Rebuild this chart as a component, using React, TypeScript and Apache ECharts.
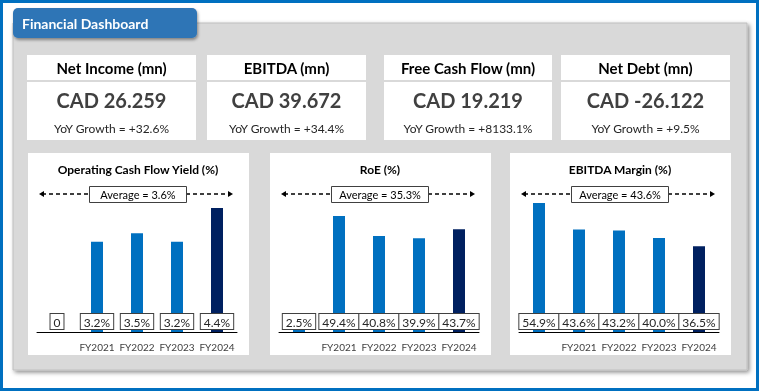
import React, { useEffect, useRef } from "react";
import * as echarts from "echarts";

const dashboardTitle = "Financial Dashboard";
const kpiTitles = ["Net Income (mn)", "EBITDA (mn)", "Free Cash Flow (mn)", "Net Debt (mn)"];
const kpiValues = [26.259, 39.672, 19.219, -26.122];
const kpiGrowth = [32.6, 34.4, 8133.1, 9.5];

const categories = ["", "FY2021", "FY2022", "FY2023", "FY2024"];
const chartTitles = ["Operating Cash Flow Yield (%)", "RoE (%)", "EBITDA Margin (%)"];
const ocfYield = [0, 3.2, 3.5, 3.2, 4.4];
const roe = [2.5, 49.4, 40.8, 39.9, 43.7];
const ebitdaMargin = [54.9, 43.6, 43.2, 40.0, 36.5];
const averages = [3.6, 35.3, 43.6];
const yMax = [5, 60, 60];

const FONT = "Lato, 'Open Sans', sans-serif";
const BLUE = "#0070C0";
const NAVY = "#002060";

export default function App() {
  const ref = useRef<HTMLDivElement>(null);
  useEffect(() => {
    if (!ref.current) return;
    const chart = echarts.init(ref.current, undefined, { renderer: "svg" });
    const seriesData = [ocfYield, roe, ebitdaMargin];

    const cardX = [27, 207, 384, 561];
    const cardW = [169, 159, 168, 169];
    const panelL = [28, 270, 510];

    const graphics: any[] = [
      {
        type: "rect",
        z: -10,
        shape: { x: 1.5, y: 1.5, width: 756, height: 388 },
        style: { fill: "#fff", stroke: BLUE, lineWidth: 3 },
      },
      {
        type: "rect",
        z: -9,
        shape: { x: 13, y: 23, width: 734, height: 347 },
        style: {
          fill: "#D9D9D9",
          stroke: "#BFBFBF",
          lineWidth: 1,
          shadowBlur: 4,
          shadowOffsetX: 2,
          shadowOffsetY: 2,
          shadowColor: "rgba(0,0,0,0.45)",
        },
      },
      {
        type: "rect",
        z: -8,
        shape: { x: 13, y: 8, width: 184, height: 30, r: 5 },
        style: {
          fill: "#2E75B6",
          shadowBlur: 3,
          shadowOffsetX: 1,
          shadowOffsetY: 2,
          shadowColor: "rgba(0,0,0,0.4)",
        },
      },
      {
        type: "text",
        z: -7,
        style: {
          text: dashboardTitle,
          x: 22,
          y: 23,
          textVerticalAlign: "middle",
          fill: "#fff",
          font: `bold 14px ${FONT}`,
        },
      },
    ];

    kpiTitles.forEach((t, i) => {
      const x = cardX[i];
      const w = cardW[i];
      graphics.push(
        { type: "rect", z: -7, shape: { x, y: 55, width: w, height: 25 }, style: { fill: "#fff" } },
        { type: "rect", z: -7, shape: { x, y: 82, width: w, height: 58 }, style: { fill: "#fff" } },
        {
          type: "text",
          z: -6,
          style: {
            text: t,
            x: x + w / 2,
            y: 68,
            textAlign: "center",
            textVerticalAlign: "middle",
            fill: "#000",
            font: `bold 15px ${FONT}`,
          },
        },
        {
          type: "text",
          z: -6,
          style: {
            text: "CAD " + kpiValues[i].toFixed(3),
            x: x + w / 2,
            y: 100,
            textAlign: "center",
            textVerticalAlign: "middle",
            fill: "#404040",
            font: `bold 20px ${FONT}`,
          },
        },
        {
          type: "text",
          z: -6,
          style: {
            text: "YoY Growth = +" + kpiGrowth[i].toFixed(1) + "%",
            x: x + w / 2,
            y: 128,
            textAlign: "center",
            textVerticalAlign: "middle",
            fill: "#262626",
            font: `12px ${FONT}`,
          },
        }
      );
    });

    panelL.forEach((L, i) => {
      const ay = 194;
      graphics.push(
        { type: "rect", z: -7, shape: { x: L, y: 153, width: 221, height: 202 }, style: { fill: "#fff" } },
        {
          type: "text",
          z: -6,
          style: {
            text: chartTitles[i],
            x: L + 110,
            y: 169,
            textAlign: "center",
            textVerticalAlign: "middle",
            fill: "#000",
            font: `bold 12px ${FONT}`,
          },
        },
        {
          type: "line",
          z: -6,
          shape: { x1: L + 14, y1: ay, x2: L + 61, y2: ay },
          style: { stroke: "#000", lineWidth: 1.5, lineDash: [4, 3] },
        },
        {
          type: "line",
          z: -6,
          shape: { x1: L + 158, y1: ay, x2: L + 202, y2: ay },
          style: { stroke: "#000", lineWidth: 1.5, lineDash: [4, 3] },
        },
        {
          type: "polygon",
          z: -6,
          shape: { points: [[L + 11, ay], [L + 16, ay - 3], [L + 16, ay + 3]] },
          style: { fill: "#000" },
        },
        {
          type: "polygon",
          z: -6,
          shape: { points: [[L + 205, ay], [L + 200, ay - 3], [L + 200, ay + 3]] },
          style: { fill: "#000" },
        },
        {
          type: "rect",
          z: -6,
          shape: { x: L + 61.5, y: 186.5, width: 97, height: 16 },
          style: { fill: "#fff", stroke: "#404040", lineWidth: 1 },
        },
        {
          type: "text",
          z: -5,
          style: {
            text: "Average = " + averages[i].toFixed(1) + "%",
            x: L + 110,
            y: 194.5,
            textAlign: "center",
            textVerticalAlign: "middle",
            fill: "#000",
            font: `11px ${FONT}`,
          },
        }
      );
    });

    const option: any = {
      animation: false,
      textStyle: { fontFamily: FONT },
      graphic: { elements: graphics },
      grid: panelL.map((L) => ({
        left: L + 9,
        right: 759 - (L + 209),
        top: 191,
        bottom: 59,
        containLabel: false,
      })),
      xAxis: panelL.map((_, i) => ({
        type: "category",
        gridIndex: i,
        data: categories,
        z: 10,
        axisLine: { lineStyle: { color: "#000", width: 1 } },
        axisTick: { show: false },
        axisLabel: { color: "#404040", fontSize: 10, margin: 10, interval: 0, fontFamily: FONT },
      })),
      yAxis: panelL.map((_, i) => ({
        type: "value",
        gridIndex: i,
        min: 0,
        max: yMax[i],
        show: false,
        splitLine: { show: false },
      })),
      series: seriesData.map((arr, i) => ({
        type: "bar",
        xAxisIndex: i,
        yAxisIndex: i,
        barWidth: 12,
        z: 5,
        data: arr.map((v, j) => ({
          value: v,
          itemStyle: { color: j === arr.length - 1 ? NAVY : BLUE },
        })),
        label: {
          show: true,
          position: "insideBottom",
          distance: 3,
          formatter: (p: any) => (p.value === 0 ? "0" : Number(p.value).toFixed(1) + "%"),
          backgroundColor: "#fff",
          borderColor: "#404040",
          borderWidth: 1,
          padding: [2, 3, 1, 3],
          color: "#262626",
          fontSize: 12,
          fontFamily: FONT,
        },
      })),
    };
    chart.setOption(option);
    return () => chart.dispose();
  }, []);

  return (
    <div
      ref={ref}
      style={{ position: "fixed", left: 0, top: 0, width: 759, height: 391 }}
    />
  );
}
